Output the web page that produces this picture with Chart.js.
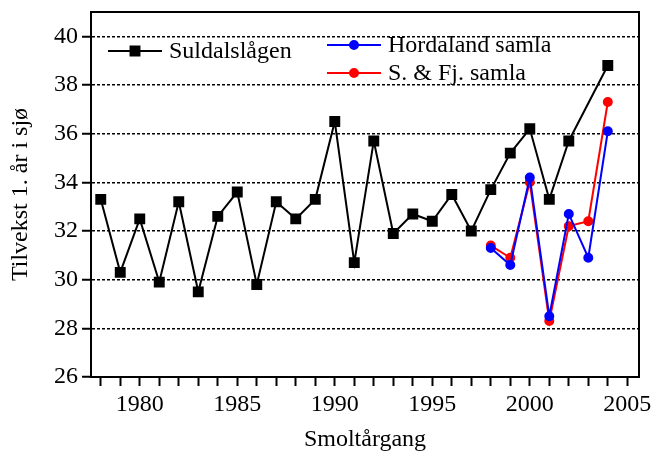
<!DOCTYPE html>
<html>
<head>
<meta charset="utf-8">
<script src="https://cdn.jsdelivr.net/npm/chart.js@4"></script>
<style>
  html, body { margin: 0; padding: 0; background: #fff; }
  #wrap { width: 661px; height: 454px; }
</style>
</head>
<body>
<div id="wrap"><canvas id="tilvekst" width="661" height="454"></canvas></div>
<script>
// Smoltårgang 1978-2004
const years = [1978, 1979, 1980, 1981, 1982, 1983, 1984, 1985, 1986, 1987, 1988, 1989, 1990,
  1991, 1992, 1993, 1994, 1995, 1996, 1997, 1998, 1999, 2000, 2001, 2002, 2003, 2004];
const suldalslagen = [33.3, 30.3, 32.5, 29.9, 33.2, 29.5, 32.6, 33.6, 29.8, 33.2, 32.5, 33.3, 36.5,
  30.7, 35.7, 31.9, 32.7, 32.4, 33.5, 32.0, 33.7, 35.2, 36.2, 33.3, 35.7, null, 38.8];
// only 1998-2004
const sampleYears = [1998, 1999, 2000, 2001, 2002, 2003, 2004];
const hordaland = [31.3, 30.6, 34.2, 28.5, 32.7, 30.9, 36.1];
const sognFjordane = [31.4, 30.9, 34.0, 28.3, 32.2, 32.4, 37.3];
const yTicks = [26, 28, 30, 32, 34, 36, 38, 40];

const serif = 'Liberation Serif';
const toPoints = (xs, ys) => xs.map((x, i) => ({ x: x, y: ys[i] }));

// legend drawn inside the plot, like the original
const insideLegend = {
    id: 'insideLegend',
    beforeDatasetsDraw(chart) {
        const { ctx, chartArea } = chart;
        ctx.save();
        ctx.strokeStyle = '#000';
        ctx.lineWidth = 2;
        ctx.strokeRect(chartArea.left, chartArea.top, chartArea.width, chartArea.height);
        ctx.restore();
    },
    afterDraw(chart) {
        const ctx = chart.ctx;
        const entries = [
            { ds: 0, x: 108, y: 51 },
            { ds: 1, x: 327, y: 45 },
            { ds: 2, x: 327, y: 73 }
        ];
        ctx.save();
        entries.forEach(e => {
            const ds = chart.data.datasets[e.ds];
            ctx.strokeStyle = ds.borderColor;
            ctx.lineWidth = ds.borderWidth;
            ctx.beginPath();
            ctx.moveTo(e.x, e.y);
            ctx.lineTo(e.x + 54, e.y);
            ctx.stroke();
            Chart.helpers.drawPoint(ctx, {
                pointStyle: ds.pointStyle,
                radius: ds.pointRadius,
                borderWidth: 1
            }, e.x + 27, e.y);
            ctx.fillStyle = ds.pointBackgroundColor;
            ctx.fill();
            ctx.fillStyle = '#000';
            ctx.font = '24px "' + serif + '"';
            ctx.textBaseline = 'middle';
            ctx.textAlign = 'left';
            ctx.fillText(ds.label, e.x + 61, e.y + 1);
        });
        ctx.restore();
    }
};

const ctx = document.getElementById('tilvekst').getContext('2d');
const chart = new Chart(ctx, {
    type: 'line',
    data: {
        datasets: [{
            label: 'Suldalslågen',
            data: toPoints(years, suldalslagen),
            borderColor: '#000',
            backgroundColor: '#000',
            pointBackgroundColor: '#000',
            pointBorderColor: '#000',
            pointStyle: 'rect',
            pointRadius: 6.3,
            borderWidth: 2,
            spanGaps: true,
            tension: 0
        }, {
            label: 'Hordaland samla',
            data: toPoints(sampleYears, hordaland),
            borderColor: '#0000ff',
            backgroundColor: '#0000ff',
            pointBackgroundColor: '#0000ff',
            pointBorderColor: '#0000ff',
            pointStyle: 'circle',
            pointRadius: 4,
            borderWidth: 2,
            tension: 0
        }, {
            label: 'S. & Fj. samla',
            data: toPoints(sampleYears, sognFjordane),
            borderColor: '#ff0000',
            backgroundColor: '#ff0000',
            pointBackgroundColor: '#ff0000',
            pointBorderColor: '#ff0000',
            pointStyle: 'circle',
            pointRadius: 4,
            borderWidth: 2,
            tension: 0
        }]
    },
    options: {
        responsive: false,
        animation: false,
        events: [],
        layout: { padding: { top: 12, right: 22, left: 0, bottom: 0 } },
        plugins: {
            legend: { display: false },
            tooltip: { enabled: false }
        },
        scales: {
            x: {
                type: 'linear',
                min: 1977.5,
                max: 2005.6,
                afterFit: s => { s.height = 77; },
                ticks: {
                    stepSize: 1,
                    includeBounds: false,
                    autoSkip: false,
                    maxRotation: 0,
                    padding: 4,
                    color: '#000',
                    font: { family: serif, size: 24 },
                    callback: v => (v % 5 === 0 ? String(v) : '')
                },
                grid: {
                    drawOnChartArea: false,
                    drawTicks: true,
                    tickLength: 9,
                    tickColor: '#000',
                    tickWidth: 2
                },
                border: { color: '#000', width: 2 },
                title: {
                    display: true,
                    text: 'Smoltårgang',
                    color: '#000',
                    font: { family: serif, size: 24 },
                    padding: 0
                }
            },
            y: {
                min: 26,
                max: 41,
                afterFit: s => { s.width = 91; s.paddingTop = 0; s.paddingBottom = 0; },
                afterBuildTicks: s => { s.ticks = yTicks.map(v => ({ value: v })); },
                ticks: {
                    stepSize: 2,
                    includeBounds: false,
                    padding: 4,
                    color: '#000',
                    font: { family: serif, size: 24 }
                },
                grid: {
                    color: '#000',
                    lineWidth: 1.5,
                    tickLength: 9,
                    tickColor: '#000',
                    tickWidth: 2,
                    tickBorderDash: []
                },
                border: { color: '#000', width: 2, dash: [3, 2] },
                title: {
                    display: true,
                    text: 'Tilvekst 1. år i sjø',
                    color: '#000',
                    font: { family: serif, size: 24 },
                    padding: { top: 6, bottom: 0 }
                }
            }
        }
    },
    plugins: [insideLegend]
});
</script>
</body>
</html>
